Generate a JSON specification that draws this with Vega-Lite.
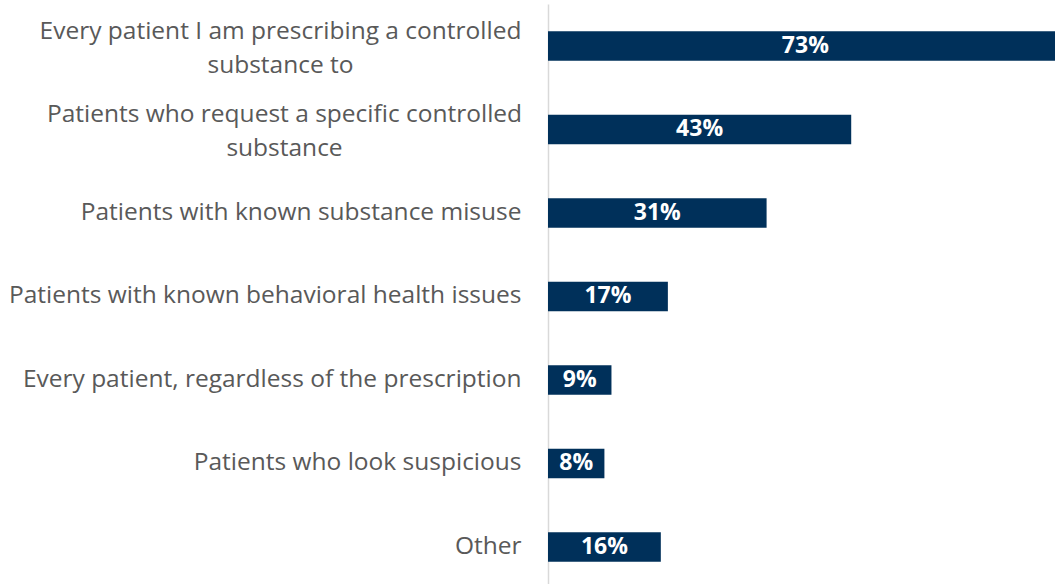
{
  "$schema": "https://vega.github.io/schema/vega-lite/v6.json",
  "width": 507,
  "height": 580,
  "autosize": "none",
  "padding": {"left": 548, "top": 4, "right": 0, "bottom": 0},
  "background": "white",
  "config": {"view": {"stroke": null}},
  "data": {
    "values": [
      {"label": "Every patient I am prescribing a controlled|substance to", "value": 0.73},
      {"label": "Patients who request a specific controlled|substance", "value": 0.43},
      {"label": "Patients with known substance misuse", "value": 0.31},
      {"label": "Patients with known behavioral health issues", "value": 0.17},
      {"label": "Every patient, regardless of the prescription", "value": 0.09},
      {"label": "Patients who look suspicious", "value": 0.08},
      {"label": "Other", "value": 0.16}
    ]
  },
  "encoding": {
    "y": {
      "field": "label",
      "type": "nominal",
      "sort": null,
      "scale": {"paddingInner": 0.647, "paddingOuter": 0.2965, "align": 0.55},
      "axis": {
        "title": null,
        "ticks": false,
        "domainColor": "#d9d9d9",
        "domainWidth": 1.5,
        "labelFont": "Open Sans",
        "labelFontSize": 24.5,
        "labelColor": "#595959",
        "labelLineHeight": 34,
        "labelLimit": 0,
        "labelAlign": {"condition": {"test": "indexof(datum.value, '|') >= 0", "value": "center"}, "value": "right"},
        "labelPadding": {"condition": [
          {"test": "indexof(datum.value, 'Every patient I am') >= 0", "value": 268},
          {"test": "indexof(datum.value, 'Patients who request') >= 0", "value": 264}
        ], "value": 27},
        "labelOffset": {"condition": {"test": "indexof(datum.value, '|') >= 0", "value": -14}, "value": 0},
        "labelExpr": "split(datum.label, '|')"
      }
    }
  },
  "layer": [
    {
      "mark": {"type": "bar", "color": "#00305a", "clip": true},
      "encoding": {
        "x": {
          "field": "value",
          "type": "quantitative",
          "scale": {"domain": [0, 0.719], "nice": false},
          "axis": null
        }
      }
    },
    {
      "transform": [{"calculate": "datum.value / 2", "as": "mid"}],
      "mark": {"type": "text", "color": "white", "font": "Open Sans", "fontWeight": "bold", "fontSize": 23, "align": "center", "baseline": "middle"},
      "encoding": {
        "x": {"field": "mid", "type": "quantitative"},
        "text": {"field": "value", "type": "quantitative", "format": ".0%"}
      }
    }
  ]
}
